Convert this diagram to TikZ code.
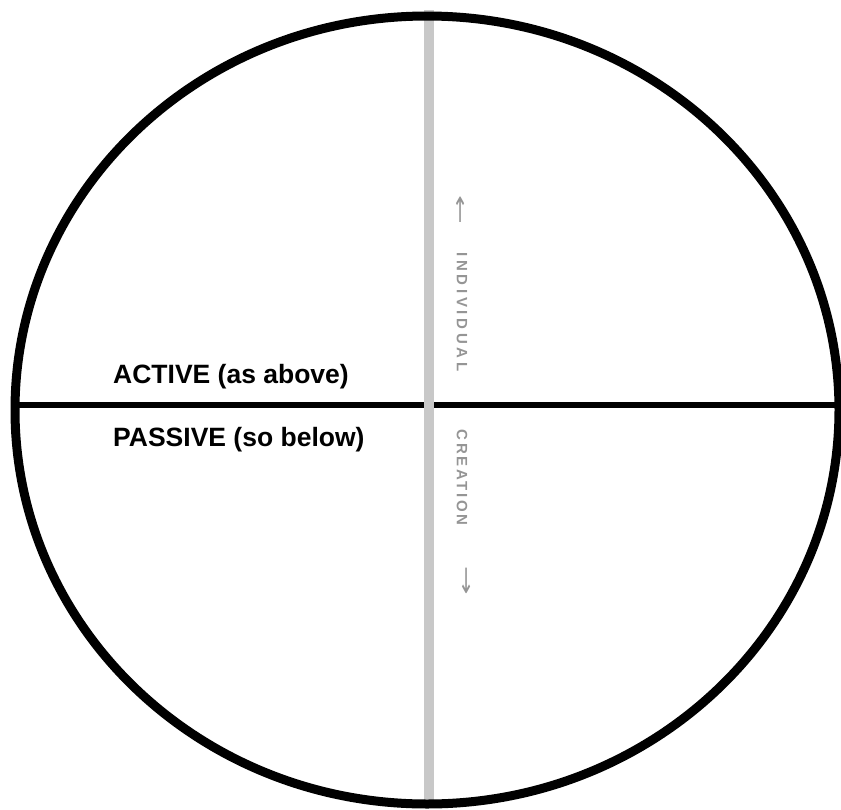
\documentclass[tikz,border=0pt]{standalone}
\usepackage{fontspec}
\usepackage{graphicx}
\setmainfont{Liberation Sans}
\newfontfamily\arrowfont{DejaVu Sans}
\newfontfamily\spacedA[LetterSpace=24.6]{Liberation Sans Bold}
\newfontfamily\spacedB[LetterSpace=17.8]{Liberation Sans Bold}
\definecolor{bargray}{HTML}{C8C8C8}
\definecolor{txtgray}{HTML}{959595}
\tikzset{
  outline/.style={line width=9pt, draw=black},
  axisline/.style={line width=6pt, draw=black},
  bar/.style={line width=10pt, draw=bargray},
  label/.style={font=\bfseries\fontsize{26.5}{30}\selectfont, anchor=base west, inner sep=0pt},
  vlabel/.style={text=txtgray, inner sep=0pt, rotate=-90},
  arrowlabel/.style={text=txtgray, inner sep=0pt, rotate=0, font=\arrowfont\fontsize{24}{26}\selectfont}
}
\begin{document}
\begin{tikzpicture}[x=1pt,y=-1pt]
\useasboundingbox (0,0) rectangle (841,809);
\coordinate (L) at (15,405.3);
\coordinate (R) at (839,405.3);
\coordinate (T) at (429,10);
\coordinate (B) at (429,805);
\draw[axisline] (L) -- (R);
\draw[bar] (T) -- (B);
\draw[outline] (427,410) ellipse [x radius=412, y radius=394];
\node[label] (active) at (113,383) {ACTIVE (as above)};
\node[label] (passive) at (113,446.5) {PASSIVE (so below)};
\node[vlabel, font=\spacedA\fontsize{15}{17}\selectfont] (indiv) at (462,312) {INDIVIDUAL};
\node[vlabel, font=\spacedB\fontsize{15}{17}\selectfont] (creat) at (462,477.5) {CREATION};
\node[arrowlabel] (up) at (461,210) {\scalebox{0.8}[1.45]{\char"2191}};
\node[arrowlabel] (down) at (467,581) {\scalebox{0.8}[1.45]{\char"2193}};
\end{tikzpicture}
\end{document}
